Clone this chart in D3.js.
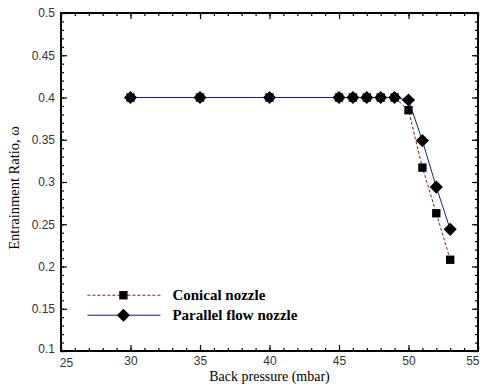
<!DOCTYPE html>
<html>
<head>
<meta charset="utf-8">
<script src="https://cdn.jsdelivr.net/npm/d3@7"></script>
<style>
  body { margin: 0; background: #fff; }
  svg { display: block; }
</style>
</head>
<body>
<div class="chart"></div>
<script>
// data
const pressure = [30, 35, 40, 45, 46, 47, 48, 49, 50, 51, 52, 53];
const conical = [0.4, 0.4, 0.4, 0.4, 0.4, 0.4, 0.4, 0.4, 0.385, 0.317, 0.263, 0.208];
const parallel = [0.4, 0.4, 0.4, 0.4, 0.4, 0.4, 0.4, 0.4, 0.397, 0.349, 0.294, 0.244];
const xTicks = [25, 30, 35, 40, 45, 50, 55];
const yTicks = [0.1, 0.15, 0.2, 0.25, 0.3, 0.35, 0.4, 0.45, 0.5];
const seriesNames = ["Conical nozzle", "Parallel flow nozzle"];

const width = 480, height = 385;
const margin = { top: 13, right: 2, bottom: 34, left: 61 };
const chartWidth = width - margin.left - margin.right;
const chartHeight = height - margin.top - margin.bottom;

const tickFont = "Liberation Sans, Arial, sans-serif";
const serif = "Liberation Serif, Times New Roman, serif";

const svg = d3.select(".chart").append("svg")
  .attr("width", width)
  .attr("height", height);

const g = svg.append("g")
  .attr("transform", `translate(${margin.left},${margin.top})`);

const x = d3.scaleLinear().domain([25, 55]).range([0, chartWidth]);
const y = d3.scaleLinear().domain([0.1, 0.5]).range([chartHeight, 0]);

const minorX = d3.range(25, 56, 1);
const minorY = d3.range(0, 41).map(i => +(0.1 + i * 0.01).toFixed(2));

// inward ticks on all four sides, no labels
function addTicks(axisFn, scale, values, size, transform) {
  const a = g.append("g")
    .attr("transform", transform)
    .call(axisFn(scale).tickValues(values).tickSize(size).tickFormat(""));
  a.select(".domain").remove();
  a.selectAll("line").attr("stroke", "#000").attr("stroke-width", 1.2);
}

function styleLabels(a) {
  a.select(".domain").remove();
  a.selectAll("text")
    .attr("font-family", tickFont)
    .attr("font-size", 12)
    .attr("fill", "#333");
}

// bottom
addTicks(d3.axisTop, x, minorX, 3, `translate(0,${chartHeight})`);
addTicks(d3.axisTop, x, xTicks, 6, `translate(0,${chartHeight})`);
const xa = g.append("g")
  .attr("transform", `translate(0,${chartHeight})`)
  .call(d3.axisBottom(x).tickValues(xTicks).tickSize(0).tickPadding(5).tickFormat(d3.format("")));
styleLabels(xa);
xa.selectAll(".tick").filter(d => d === 25).select("text").attr("dx", 5).attr("dy", "0.95em");
// last label sits at the window edge; keep it inside
xa.selectAll(".tick").filter(d => d === 55).select("text").attr("text-anchor", "end").attr("dx", 1);
// top
addTicks(d3.axisBottom, x, minorX, 3, "translate(0,0)");
addTicks(d3.axisBottom, x, xTicks, 6, "translate(0,0)");
// left
addTicks(d3.axisRight, y, minorY, 3, "translate(0,0)");
addTicks(d3.axisRight, y, yTicks, 6, "translate(0,0)");
const ya = g.append("g")
  .call(d3.axisLeft(y).tickValues(yTicks).tickSize(0).tickPadding(6).tickFormat(d3.format("")));
styleLabels(ya);
ya.selectAll(".tick").filter(d => d === 0.1).select("text").attr("dy", "0.1em");
// right
addTicks(d3.axisLeft, y, minorY, 3, `translate(${chartWidth},0)`);
addTicks(d3.axisLeft, y, yTicks, 6, `translate(${chartWidth},0)`);

// frame
g.append("rect")
  .attr("width", chartWidth).attr("height", chartHeight)
  .attr("fill", "none").attr("stroke", "#000").attr("stroke-width", 2);

const conicalData = pressure.map((p, i) => ({ x: p, y: conical[i] }));
const parallelData = pressure.map((p, i) => ({ x: p, y: parallel[i] }));

const line = d3.line().x(d => x(d.x)).y(d => y(d.y));

const square = d3.symbol().type(d3.symbolSquare).size(70);
const diamond = d3.symbol().type(d3.symbolDiamond2).size(110);

g.append("path").datum(conicalData)
  .attr("d", line).attr("fill", "none")
  .attr("stroke", "#8b1a1a").attr("stroke-width", 1).attr("stroke-dasharray", "3,2");
g.selectAll(".sq").data(conicalData).join("path")
  .attr("class", "sq")
  .attr("d", square)
  .attr("transform", d => `translate(${x(d.x)},${y(d.y)})`)
  .attr("fill", "#000");

g.append("path").datum(parallelData)
  .attr("d", line).attr("fill", "none")
  .attr("stroke", "#1a1a80").attr("stroke-width", 1);
g.selectAll(".dm").data(parallelData).join("path")
  .attr("class", "dm")
  .attr("d", diamond)
  .attr("transform", d => `translate(${x(d.x)},${y(d.y)})`)
  .attr("fill", "#000");

// legend
const legend = g.append("g").attr("transform", `translate(${x(26.9)},${y(0.166)})`);
const legItems = [
  { name: seriesNames[0], stroke: "#8b1a1a", dash: "3,2", sym: square, dy: 0 },
  { name: seriesNames[1], stroke: "#1a1a80", dash: null, sym: diamond, dy: 20 }
];
legItems.forEach(it => {
  const row = legend.append("g").attr("transform", `translate(0,${it.dy})`);
  row.append("line").attr("x1", 0).attr("x2", 73).attr("y1", 0).attr("y2", 0)
    .attr("stroke", it.stroke).attr("stroke-width", 1)
    .attr("stroke-dasharray", it.dash);
  row.append("path").attr("d", it.sym).attr("transform", "translate(36,0)").attr("fill", "#000");
  row.append("text").attr("x", 85).attr("y", 5)
    .attr("font-family", serif)
    .attr("font-weight", "bold").attr("font-size", 15)
    .text(it.name);
});

// axis titles
svg.append("text")
  .attr("x", margin.left + chartWidth / 2).attr("y", height - 4)
  .attr("text-anchor", "middle")
  .attr("font-family", serif)
  .attr("font-size", 14)
  .text("Back pressure (mbar)");
svg.append("text")
  .attr("transform", `translate(19,${margin.top + chartHeight / 2 + 6}) rotate(-90)`)
  .attr("text-anchor", "middle")
  .attr("font-family", serif)
  .attr("font-size", 14.5)
  .text("Entrainment Ratio, ω");
</script>
</body>
</html>
